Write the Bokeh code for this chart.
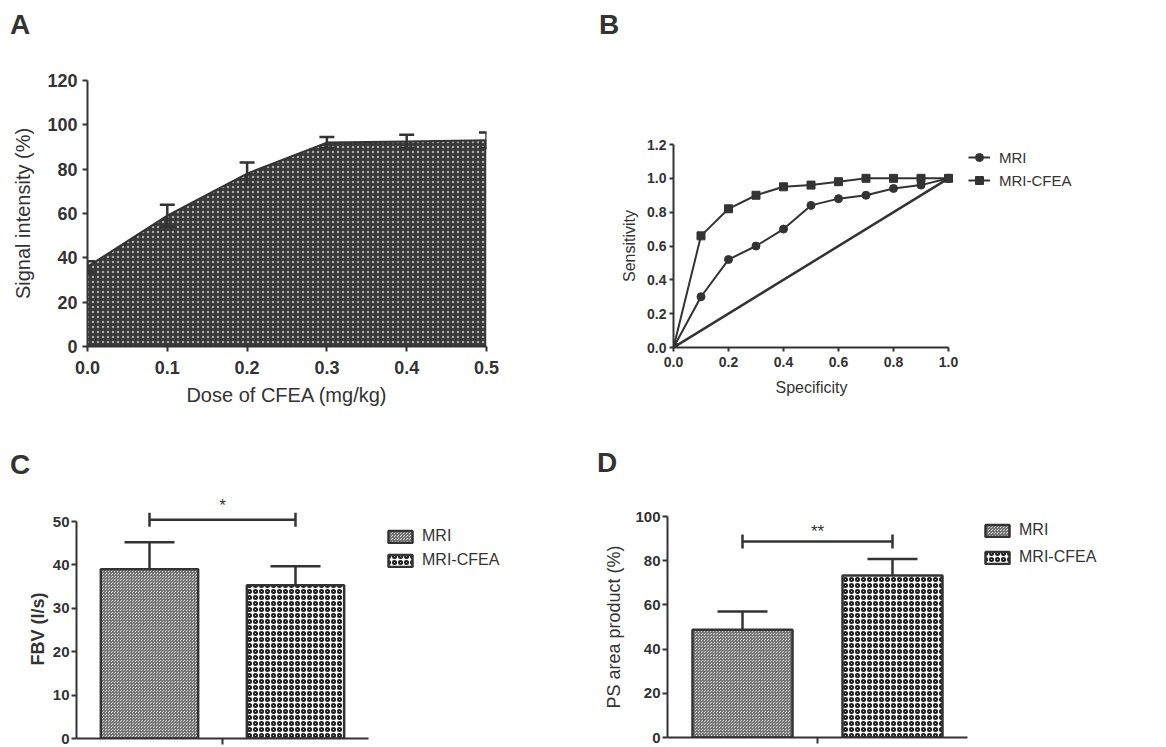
from bokeh.plotting import figure
from bokeh.models import (ColumnDataSource, Whisker, TeeHead, FixedTicker,
                          NumeralTickFormatter, Legend, LegendItem, Div, Title,
                          Range1d)
from bokeh.layouts import row, column
from bokeh.embed import file_html
from bokeh.resources import INLINE
from bokeh.core.properties import value

# ---------------- data ----------------
panel_letters = ["A", "B", "C", "D"]

dose = [0.0, 0.1, 0.2, 0.3, 0.4, 0.5]
signal_mean = [36.0, 59.0, 78.0, 92.0, 92.5, 93.0]
signal_err = [2.5, 5.0, 5.0, 2.5, 3.0, 3.5]
dose_ticks = [0.0, 0.1, 0.2, 0.3, 0.4, 0.5]
signal_ticks = [0, 20, 40, 60, 80, 100, 120]

specificity = [0.0, 0.1, 0.2, 0.3, 0.4, 0.5, 0.6, 0.7, 0.8, 0.9, 1.0]
sens_mri = [0.0, 0.30, 0.52, 0.60, 0.70, 0.84, 0.88, 0.90, 0.94, 0.96, 1.0]
sens_mri_cfea = [0.0, 0.66, 0.82, 0.90, 0.95, 0.96, 0.98, 1.0, 1.0, 1.0, 1.0]
chance_x = [0.0, 1.0]
chance_y = [0.0, 1.0]
roc_xticks = [0.0, 0.2, 0.4, 0.6, 0.8, 1.0]
roc_yticks = [0.0, 0.2, 0.4, 0.6, 0.8, 1.0, 1.2]

groups = ["MRI", "MRI-CFEA"]
fbv_mean = [39.0, 35.3]
fbv_err = [6.2, 4.4]
fbv_ticks = [0, 10, 20, 30, 40, 50]
fbv_sig = "*"
fbv_sig_y = 50.4

ps_mean = [48.7, 73.3]
ps_err = [8.3, 7.5]
ps_ticks = [0, 20, 40, 60, 80, 100]
ps_sig = "**"
ps_sig_y = 88.7

# ---------------- styles ----------------
INK = "#333333"
FONT = "Liberation Sans"

group_fill = ["#d0d0d0", "white"]
group_hatch = ["criss_cross", "ring"]
group_hatch_color = ["#767676", "#1e1e1e"]
group_hatch_scale = [3, 6]
group_hatch_weight = [1, 2.0]


def make_fig(frame_w, frame_h, left, right, top, bottom, xr, yr):
    p = figure(frame_width=frame_w, frame_height=frame_h,
               min_border_left=left, min_border_right=right,
               min_border_top=top, min_border_bottom=bottom,
               x_range=xr, y_range=yr, output_backend="svg",
               toolbar_location=None, background_fill_color="white",
               border_fill_color="white")
    try:
        p.frame_align = False
    except Exception:
        pass
    p.grid.visible = False
    p.outline_line_color = None
    for ax in p.axis:
        ax.axis_line_color = INK
        ax.axis_line_width = 2
        ax.major_tick_line_color = INK
        ax.major_tick_line_width = 2
        ax.major_tick_in = 0
        ax.major_tick_out = 5
        ax.minor_tick_line_color = None
        ax.major_label_text_font = FONT
        ax.major_label_text_font_style = "bold"
        ax.major_label_text_color = INK
        ax.axis_label_text_font = FONT
        ax.axis_label_text_color = INK
    return p


def letter_div(text, width, height, pad_top, pad_left):
    html = ('<div style="font-family:\'Liberation Sans\',Arial,sans-serif;font-size:28px;'
            'font-weight:bold;color:#333333;line-height:28px;margin:0;'
            'padding:%dpx 0 0 %dpx;">%s</div>' % (pad_top, pad_left, text))
    return Div(text=html, width=width, height=height, margin=0)


def frame_legend(p, items, loc, spacing, glyph_w, glyph_h, standoff, size):
    leg = Legend(items=items, location=loc, padding=0, margin=0, spacing=spacing,
                 glyph_width=glyph_w, glyph_height=glyph_h, label_height=20,
                 label_standoff=standoff, label_text_font=FONT,
                 label_text_font_size=size, label_text_color=INK,
                 border_line_alpha=0, background_fill_alpha=0)
    p.add_layout(leg)


# ---------------- panel A ----------------
pa = make_fig(399, 266, 87, 96, 36, 84, Range1d(0, 0.5), Range1d(0, 120))
src_a = ColumnDataSource(dict(
    x=dose, mean=signal_mean,
    upper=[m + e for m, e in zip(signal_mean, signal_err)],
    lower=[m - e for m, e in zip(signal_mean, signal_err)]))
pa.varea(x="x", y1=0, y2="mean", source=src_a, fill_color="#383838",
         hatch_pattern="dot", hatch_color="#a9a9a9", hatch_scale=5, hatch_weight=1)
pa.line(x="x", y="mean", source=src_a, line_color=INK, line_width=2)
pa.add_layout(Whisker(source=src_a, base="x", upper="upper", lower="lower",
                      line_color=INK, line_width=2.5, level="annotation",
                      upper_head=TeeHead(size=15, line_color=INK, line_width=2.5),
                      lower_head=TeeHead(size=15, line_color=INK, line_width=2.5)))
pa.xaxis.ticker = FixedTicker(ticks=dose_ticks)
pa.yaxis.ticker = FixedTicker(ticks=signal_ticks)
pa.xaxis.formatter = NumeralTickFormatter(format="0.0")
for ax in pa.axis:
    ax.major_label_text_font_size = "18px"
    ax.axis_label_text_font_size = "20px"
    ax.axis_label_text_font_style = "normal"
    ax.major_label_standoff = 5
pa.xaxis.major_label_standoff = 9
pa.xaxis.axis_label = "Dose of CFEA (mg/kg)"
pa.yaxis.axis_label = "Signal intensity (%)"
pa.xaxis.axis_label_standoff = 7
pa.yaxis.axis_label_standoff = 10

# ---------------- panel B ----------------
# frame is widened to the right so the legend sits inside it; the x axis stops at 1.0
B_PX_PER_UNIT = 275.0
pb = make_fig(467, 203, 91, 10, 100, 83, Range1d(0, 467 / B_PX_PER_UNIT), Range1d(0, 1.2))
pb.line(chance_x, chance_y, line_color=INK, line_width=2.5)
l1 = pb.line(specificity, sens_mri, line_color=INK, line_width=2)
s1 = pb.scatter(specificity, sens_mri, marker="circle", size=8, fill_color=INK, line_color=INK)
l2 = pb.line(specificity, sens_mri_cfea, line_color=INK, line_width=2)
s2 = pb.scatter(specificity, sens_mri_cfea, marker="square", size=8, fill_color=INK, line_color=INK)
pb.xaxis.ticker = FixedTicker(ticks=roc_xticks)
pb.yaxis.ticker = FixedTicker(ticks=roc_yticks)
pb.xaxis.bounds = (0, 1)
pb.xaxis.formatter = NumeralTickFormatter(format="0.0")
pb.yaxis.formatter = NumeralTickFormatter(format="0.0")
for ax in pb.axis:
    ax.major_label_text_font_size = "14px"
    ax.axis_label_text_font_size = "16px"
    ax.axis_label_text_font_style = "normal"
    ax.major_tick_out = 4
    ax.major_label_standoff = 3
pb.xaxis.major_label_standoff = 5
pb.yaxis.axis_label = "Sensitivity"
pb.yaxis.axis_label_standoff = 6
pb.add_layout(Title(text="Specificity", align="left", offset=102, vertical_align="top",
                    standoff=18, text_font=FONT, text_font_size="16px",
                    text_font_style="normal", text_color=INK), "below")
frame_legend(pb, [LegendItem(label=groups[0], renderers=[l1, s1]),
                  LegendItem(label=groups[1], renderers=[l2, s2])],
             (295, 157), 3, 22, 20, 9, "15px")


# ---------------- panels C and D ----------------
def bar_panel(frame_w, axis_w, frame_h, left, right, top, bottom, ymax, means, errs,
              ticks, sig, sig_y, sig_off, leg_loc, leg_spacing, axis_bound):
    xmax = 3.0 * frame_w / axis_w
    p = make_fig(frame_w, frame_h, left, right, top, bottom, Range1d(0, xmax), Range1d(0, ymax))
    xpos = [0.75 + 1.5 * i for i in range(len(means))]
    items = []
    for i, g in enumerate(groups):
        r = p.vbar(x=[xpos[i]], top=[means[i]], bottom=0, width=1.0,
                   fill_color=group_fill[i], line_color=INK, line_width=2.5,
                   hatch_pattern=group_hatch[i], hatch_color=group_hatch_color[i],
                   hatch_scale=group_hatch_scale[i], hatch_weight=group_hatch_weight[i])
        items.append(LegendItem(label=g, renderers=[r]))
    src = ColumnDataSource(dict(x=xpos, lower=means,
                                upper=[m + e for m, e in zip(means, errs)]))
    p.add_layout(Whisker(source=src, base="x", upper="upper", lower="lower",
                         line_color=INK, line_width=2.5, level="annotation",
                         upper_head=TeeHead(size=50, line_color=INK, line_width=2.5),
                         lower_head=None))
    sig_src = ColumnDataSource(dict(y=[sig_y], x0=[xpos[0]], x1=[xpos[1]]))
    p.add_layout(Whisker(source=sig_src, dimension="width", base="y", lower="x0",
                         upper="x1", line_color=INK, line_width=2.5, level="annotation",
                         upper_head=TeeHead(size=14, line_color=INK, line_width=2.5),
                         lower_head=TeeHead(size=14, line_color=INK, line_width=2.5)))
    p.text(x=[(xpos[0] + xpos[1]) / 2], y=[sig_y], text=[sig], y_offset=sig_off,
           text_align="center", text_baseline="alphabetic", text_font=value(FONT),
           text_font_size="17px", text_color=INK)
    p.yaxis.ticker = FixedTicker(ticks=ticks)
    p.yaxis.bounds = axis_bound
    p.xaxis.bounds = (0, 3)
    p.xaxis.ticker = FixedTicker(ticks=[1.5])
    p.xaxis.major_label_overrides = {1.5: ""}
    p.xaxis.major_label_text_font_size = "0px"
    p.xaxis.major_label_standoff = 0
    p.xaxis.major_tick_out = 6
    p.yaxis.major_label_text_font_size = "15px"
    p.yaxis.major_label_standoff = 2
    frame_legend(p, items, leg_loc, leg_spacing, 30, 15, 7, "16px")
    return p


# C: y range extended above 50 (axis stops at 50) so that the bracket and star fit
pc = bar_panel(484, 292, 243, 76, 12, 15, 8, 56, fbv_mean, fbv_err, fbv_ticks, fbv_sig,
               fbv_sig_y, -14, (309, 168), 4, (0, 50))
pc.add_layout(Title(text="FBV (l/s)", align="left", offset=73, vertical_align="bottom",
                    standoff=4, text_font=FONT, text_font_size="18px",
                    text_font_style="bold", text_color=INK), "left")

pd_ = bar_panel(473, 300, 221, 95, 10, 36, 9, 100, ps_mean, ps_err, ps_ticks, ps_sig,
                ps_sig_y, -10, (315, 170), 7, (0, 100))
pd_.yaxis.axis_label = "PS area product (%)"
pd_.yaxis.axis_label_text_font_size = "18px"
pd_.yaxis.axis_label_text_font_style = "normal"
pd_.yaxis.axis_label_standoff = 8

layout = column(
    row(letter_div(panel_letters[0], 582, 44, 11, 10),
        letter_div(panel_letters[1], 568, 44, 11, 17)),
    row(pa, pb),
    row(letter_div(panel_letters[2], 572, 50, 21, 10),
        letter_div(panel_letters[3], 578, 50, 19, 25)),
    row(pc, pd_),
)

with open("out.html", "w") as f:
    f.write(file_html(layout, INLINE))
